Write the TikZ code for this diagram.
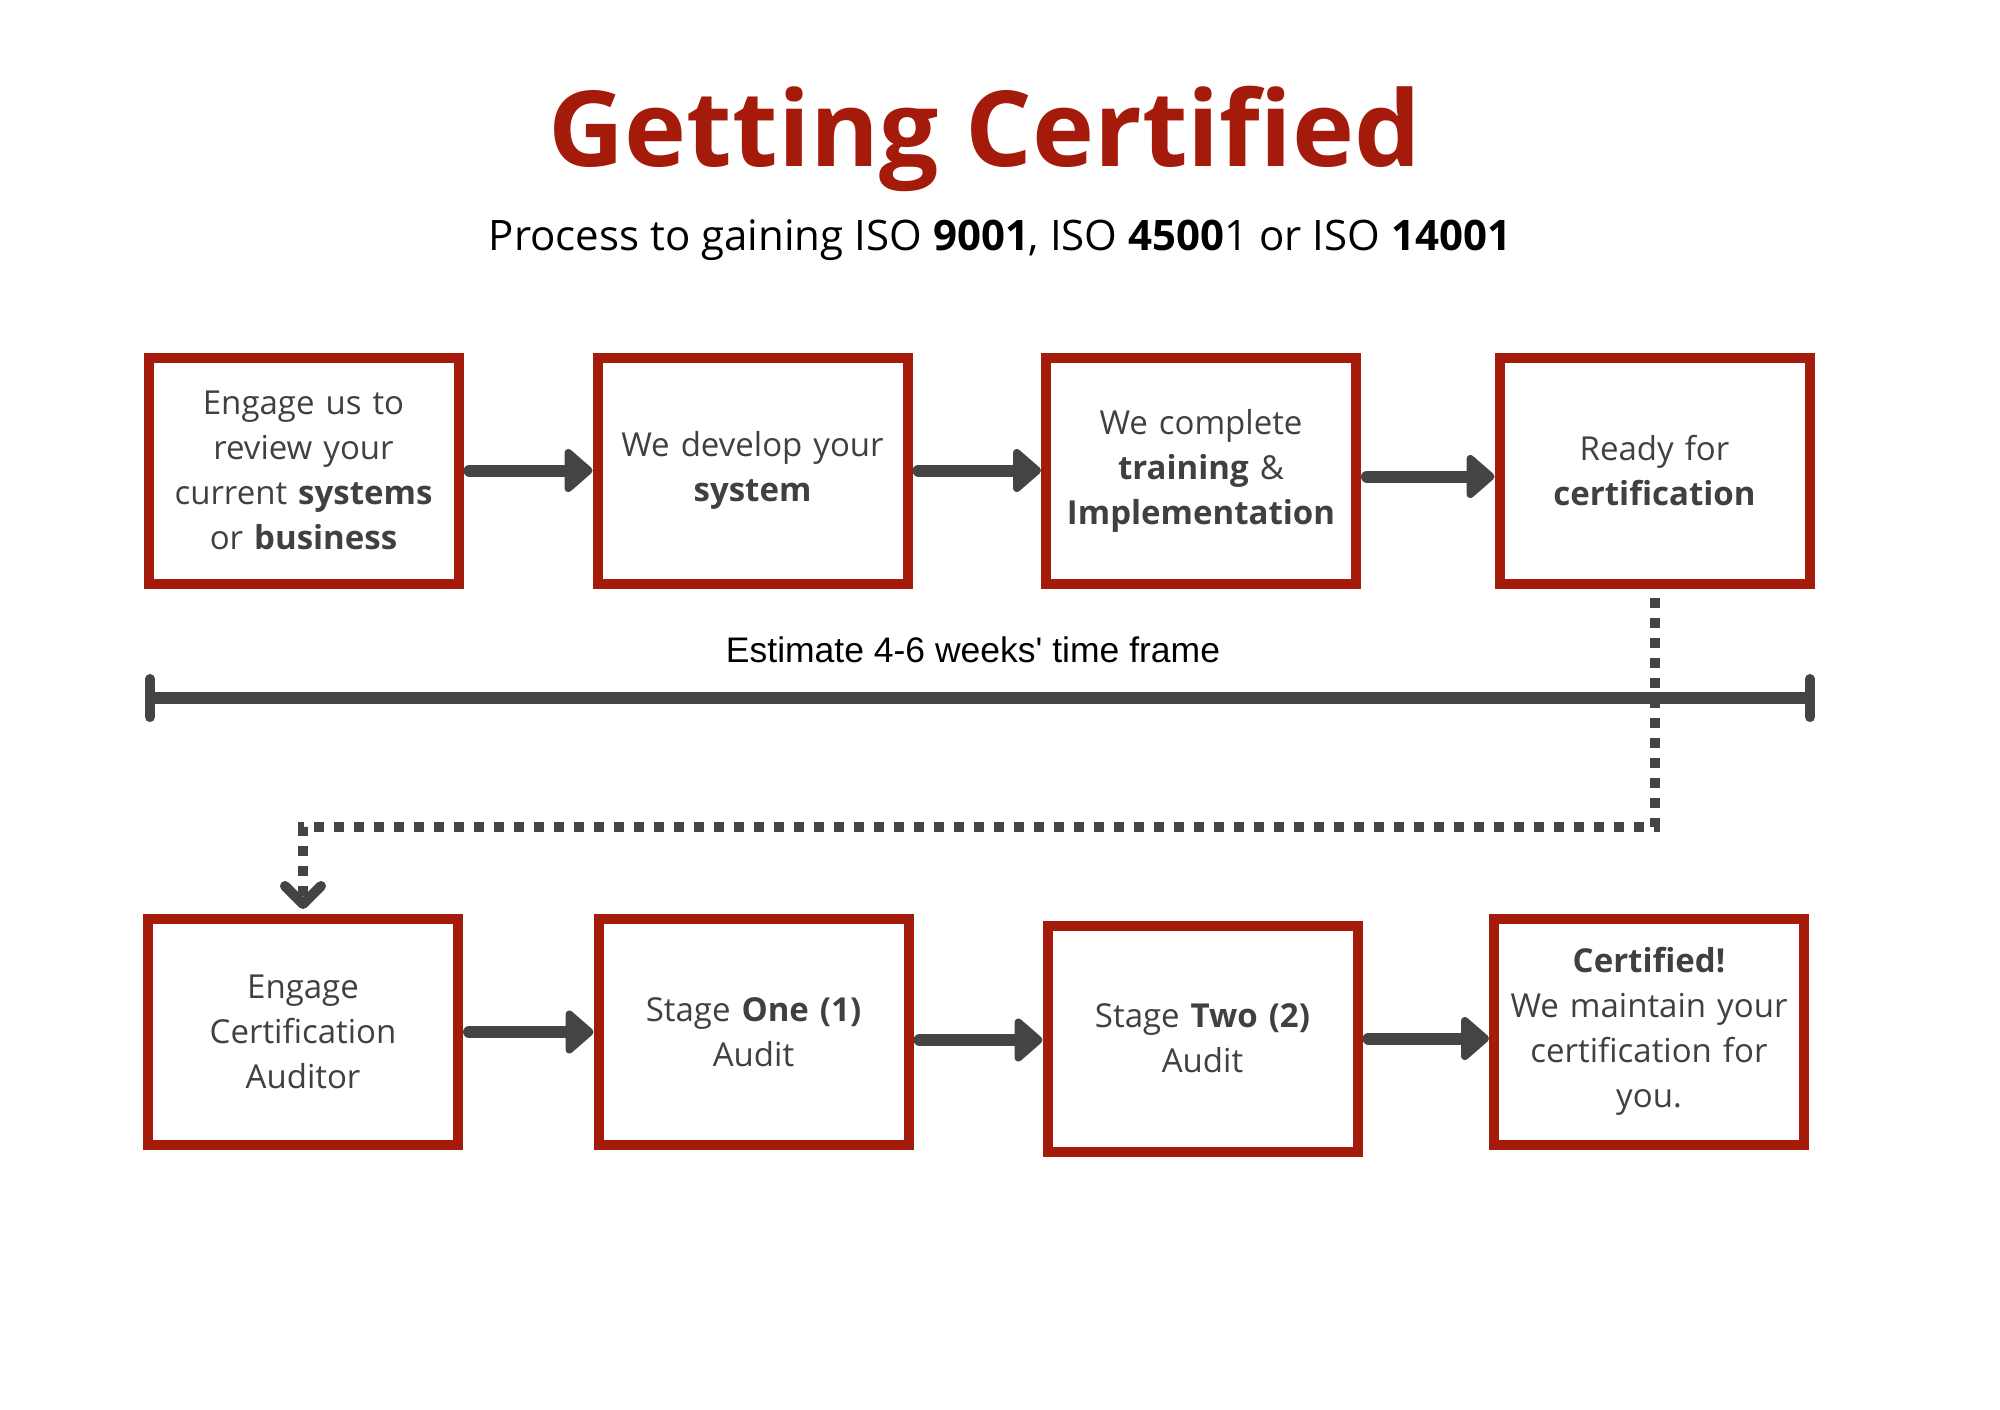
\documentclass[tikz,border=0pt]{standalone}
\usepackage{fontspec}
\setmainfont{Open Sans}
\newfontfamily\titlefont{Open Sans}
\newfontfamily\arialfont{Liberation Sans}
\usetikzlibrary{arrows.meta}
\definecolor{certred}{HTML}{A51B0B}
\definecolor{inkgray}{HTML}{444444}
\definecolor{textgray}{HTML}{404040}
\tikzset{
	stepbox/.style={draw=certred,line width=10pt,fill=white,minimum width=310pt,minimum height=226pt,
		text width=295pt,align=center,text=textgray,font=\fontsize{33}{45}\selectfont},
	flow/.style={draw=inkgray,line width=12pt,line cap=round,shorten <=6pt,
		-{Triangle[length=30pt,width=50pt,round]}},
	dotflow/.style={draw=inkgray,line width=10pt,dash pattern=on 10pt off 10pt,
		-{Straight Barb[length=18pt,width=36pt,line width=10pt,round]}},
	timeline/.style={draw=inkgray,line width=12pt,
		{Bar[width=38pt,line width=10pt,round]}-{Bar[width=38pt,line width=10pt,round]}}
}
\begin{document}
\begin{tikzpicture}[x=1pt,y=-1pt]
	\fill[white] (0,0) rectangle (2000,1409);
	\useasboundingbox (0,0) rectangle (2000,1409);
	% heading
	\node[anchor=base,text=certred,font=\titlefont\bfseries\fontsize{105}{110}\selectfont] (title) at (985,166) {Getting Certified};
	\node[anchor=base,font=\titlefont\fontsize{42}{48}\selectfont] (subtitle) at (1000,250) {Process to gaining ISO \textbf{9001}, ISO \textbf{4500}1 or ISO \textbf{14001}};
	% first row
	\node[stepbox] (engage) at (303.5,470.5) {Engage us to\\review your\\current \textbf{systems}\\or \textbf{business}};
	\node[stepbox] (develop) at (752.5,470.5) {We develop your\\\textbf{system}};
	\node[stepbox] (train) at (1201,470.5) {We complete\\\textbf{training} \&\\\textbf{Implementation}};
	\node[stepbox] (ready) at (1654.5,470.5) {Ready for\\\textbf{certification}};
	\draw[flow] (engage.east) -- (develop.west);
	\draw[flow] (develop.east) -- (train.west);
	\draw[flow] ([yshift=-6pt]train.east) -- ([yshift=-6pt]ready.west);
	% time frame
	\node[anchor=base,font=\arialfont\fontsize{35.5}{40}\selectfont] (estimate) at (973,662) {Estimate 4-6 weeks' time frame};
	\coordinate (tlstart) at (145,698);
	\coordinate (tlend) at (1815,698);
	\draw[timeline] (tlstart) -- (tlend);
	% second row
	\node[stepbox] (auditor) at (303,1032) {Engage\\Certification\\Auditor};
	\node[stepbox] (stageone) at (753.5,1032) {Stage \textbf{One (1)}\\Audit};
	\node[stepbox] (stagetwo) at (1202.5,1038.5) {Stage \textbf{Two (2)}\\Audit};
	\node[stepbox] (certified) at (1649,1031.5) {\textbf{Certified!}\\We maintain your\\certification for\\you.};
	\draw[flow] (auditor.east) -- (auditor.east -| stageone.west);
	\draw[flow] ([yshift=-8pt]stageone.east) -- ([yshift=-8pt]stageone.east -| stagetwo.west);
	\draw[flow] (stagetwo.east) -- (stagetwo.east -| certified.west);
	% on to the auditor
	\draw[dotflow,shorten <=9pt,shorten >=5pt] (ready.south) -- ++(0,238) -| (auditor.north);
\end{tikzpicture}
\end{document}
